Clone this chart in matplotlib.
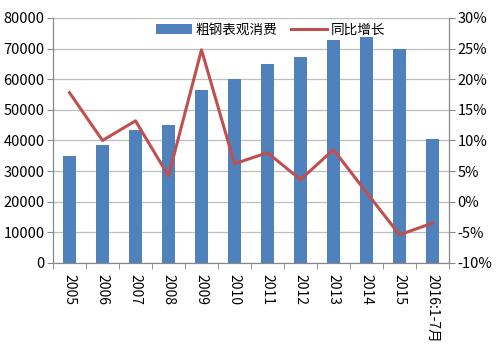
import matplotlib
matplotlib.use("Agg")
import matplotlib.pyplot as plt
from matplotlib.ticker import FuncFormatter

plt.rcParams['font.family'] = ['Noto Sans CJK SC', 'DejaVu Sans']

years = ['2005', '2006', '2007', '2008', '2009', '2010', '2011', '2012',
         '2013', '2014', '2015', '2016:1-7月']
consumption = [35000, 38600, 43500, 45200, 56500, 60000, 65000, 67200,
               72900, 73900, 70000, 40400]
growth = [17.8, 10.0, 13.2, 4.2, 24.8, 6.2, 8.0, 3.6, 8.5, 1.5, -5.4, -3.5]

fig = plt.figure(figsize=(5, 3.52), dpi=100)
ax = fig.add_axes([0.106, 0.253, 0.792, 0.696])
ax2 = ax.twinx()

x = range(len(years))
bars = ax.bar(x, consumption, width=0.4, color='#4F81BD', label='粗钢表观消费', zorder=2)
line, = ax2.plot(x, growth, color='#C0504D', lw=2.2, label='同比增长')

ax.set_xlim(-0.5, len(years) - 0.5)
ax.set_ylim(0, 80000)
ax.set_yticks(range(0, 80001, 10000))
ax2.set_ylim(-10, 30)
ax2.set_yticks(range(-10, 31, 5))
ax2.yaxis.set_major_formatter(FuncFormatter(lambda v, p: f'{v:.0f}%'))

ax.set_xticks(list(x))
ax.set_xticklabels(years, rotation=270, fontsize=10)
ax.set_xticks([i - 0.5 for i in range(len(years) + 1)], minor=True)
ax.tick_params(axis='x', which='major', length=0, pad=8)
ax.tick_params(axis='x', which='minor', length=4, color='#888888')
ax.tick_params(axis='y', length=4, color='#888888', labelsize=10.5, pad=2)
ax2.tick_params(axis='y', length=4, color='#888888', labelsize=10.5, pad=2)

ax.grid(axis='y', color='#BFBFBF', lw=0.9, zorder=0)
ax.set_axisbelow(True)
for a in (ax, ax2):
    a.spines['top'].set_visible(False)
    for s in ('left', 'right', 'bottom'):
        a.spines[s].set_color('#888888')

ax.legend([bars, line], ['粗钢表观消费', '同比增长'], loc='upper center',
          bbox_to_anchor=(0.55, 1.03), ncol=2, frameon=False, fontsize=9.8,
          handlelength=2.6, handletextpad=0.3, columnspacing=1.0)

fig.savefig('out.png', dpi=100)
